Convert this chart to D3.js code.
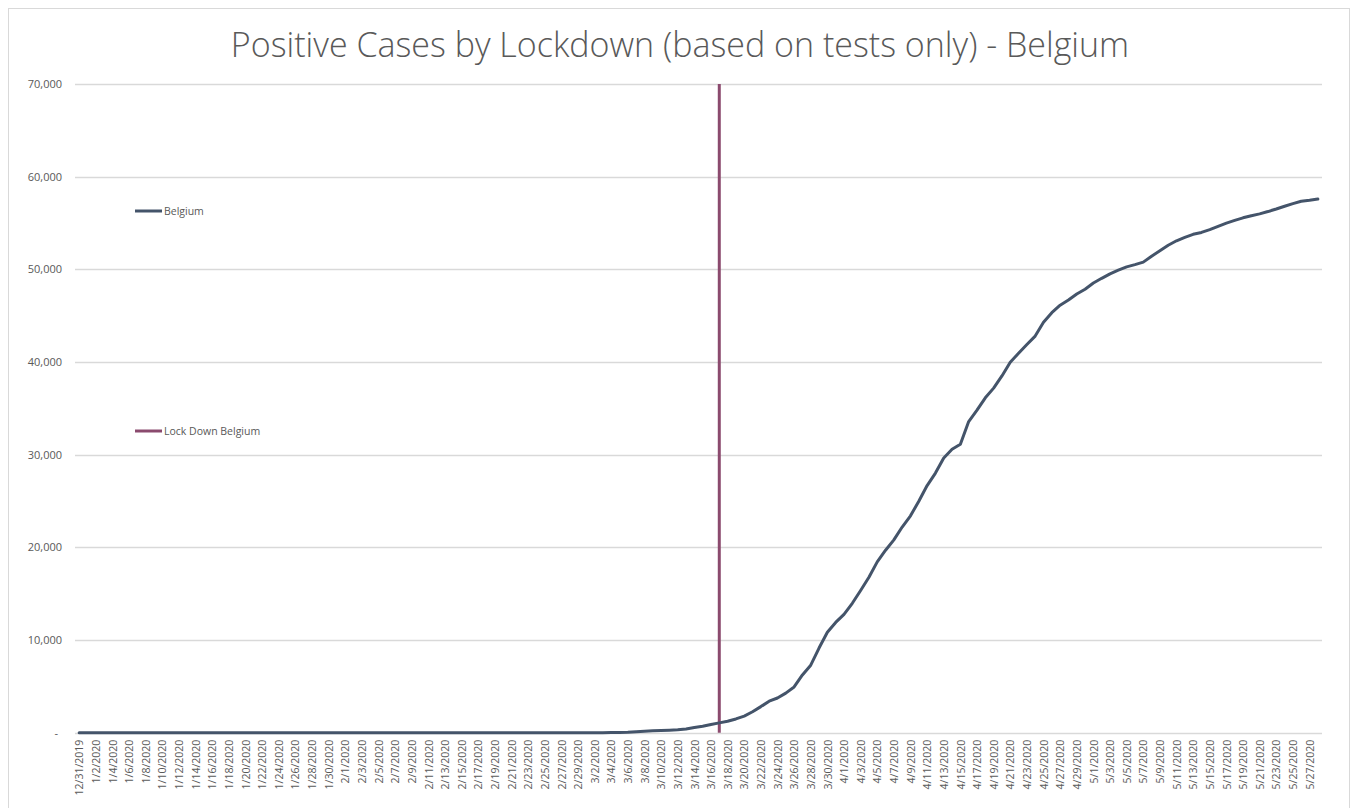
<!DOCTYPE html>
<html>
<head>
<meta charset="utf-8">
<script src="https://cdn.jsdelivr.net/npm/d3@7"></script>
<style>
  html, body { margin: 0; padding: 0; background: #fff; }
  svg { display: block; }
</style>
</head>
<body>
<svg id="chart" width="1351" height="808"></svg>
<script>
// ---------- DATA ----------
const startDate = "2019-12-31";
const endDate = "2020-05-28";
const belgiumCases = [
  // 12/31 - 2/3
  0,0,0,0,0,0,0,0,0,0,0,0,0,0,0,0,0,0,0,0,0,0,0,0,0,0,0,0,0,0,0,0,0,0,0,
  // 2/4 - 3/1
  1,1,1,1,1,1,1,1,1,1,1,1,1,1,1,1,1,1,1,1,1,1,1,1,1,1,1,
  // 3/2 - 3/31
  2,8,13,23,50,109,169,200,239,267,314,399,559,689,886,1058,1243,1486,1795,2257,
  2815,3401,3743,4269,4937,6235,7284,9134,10836,11899,
  // April
  12775,13964,15348,16770,18431,19691,20814,22194,23403,24983,26667,28018,29647,30589,31119,
  33573,34809,36138,37183,38496,39983,40956,41889,42797,44293,45325,46134,46687,47334,47859,
  // May 1 - 28
  48519,49032,49517,49906,50267,50509,50781,51420,52011,52596,53081,53449,53779,53981,54288,
  54644,54989,55280,55559,55791,55983,56235,56511,56810,57092,57342,57455,57592
];
const lockdownDate = "3/17/2020";
const lockdownValues = [0, 70000];
const yTicks = [0, 10000, 20000, 30000, 40000, 50000, 60000, 70000];
const seriesNames = ["Belgium", "Lock Down Belgium"];
const titleText = "Positive Cases by Lockdown (based on tests only) - Belgium";

// categories (M/D/YYYY) from the date span
const parse = d3.timeParse("%Y-%m-%d");
const fmt = d => (d.getMonth() + 1) + "/" + d.getDate() + "/" + d.getFullYear();
const categories = d3.timeDay.range(parse(startDate), d3.timeDay.offset(parse(endDate), 1)).map(fmt);
const tickLabels = categories.filter((c, i) => i % 2 === 0);

// ---------- CHART ----------
const svg = d3.select("#chart");
const W = 1351, H = 808;
const plot = { left: 75, right: 1322, top: 84, bottom: 732.7 };
const textColor = "#595959";
const gridColor = "#D9D9D9";
const belgiumColor = "#44546A";
const lockColor = "#8B4A6E";
const font = "'Open Sans', 'Noto Sans', sans-serif";

svg.append("rect").attr("x", 8.5).attr("y", 8.5).attr("width", W - 10).attr("height", H + 10)
  .attr("fill", "#fff").attr("stroke", "#D9D9D9").attr("stroke-width", 1);

const x = d3.scalePoint().domain(categories).range([plot.left, plot.right]).padding(0.5);
const y = d3.scaleLinear().domain([0, 70000]).range([plot.bottom, plot.top]);

// gridlines
svg.append("g").selectAll("line").data(yTicks).join("line")
  .attr("x1", plot.left).attr("x2", plot.right)
  .attr("y1", d => Math.round(y(d)) + 0.5).attr("y2", d => Math.round(y(d)) + 0.5)
  .attr("stroke", gridColor).attr("stroke-width", 1.3);

// y axis labels
const yAxis = d3.axisLeft(y).tickValues(yTicks).tickSize(0).tickPadding(0)
  .tickFormat(d => d === 0 ? "-" : d3.format(",")(d));
const gy = svg.append("g").attr("transform", `translate(${plot.left - 13},0)`).call(yAxis);
gy.select(".domain").remove();
gy.selectAll("text").attr("fill", textColor).style("font-family", font).style("font-size", "11px")
  .attr("dx", d => d === 0 ? -4 : 0);

// x axis labels
const xAxis = d3.axisBottom(x).tickValues(tickLabels).tickSize(0).tickPadding(0);
const gx = svg.append("g").attr("transform", `translate(0,${plot.bottom})`).call(xAxis);
gx.select(".domain").remove();
gx.selectAll("text")
  .attr("fill", textColor).style("font-family", font).style("font-size", "10.5px")
  .attr("transform", "rotate(-90)")
  .attr("text-anchor", "end")
  .attr("x", -7).attr("y", 0).attr("dy", "0.35em");

// lockdown line
svg.append("line")
  .attr("x1", x(lockdownDate)).attr("x2", x(lockdownDate))
  .attr("y1", y(lockdownValues[0])).attr("y2", y(lockdownValues[1]))
  .attr("stroke", lockColor).attr("stroke-width", 3);

// Belgium line
const line = d3.line().x((d, i) => x(categories[i])).y(d => y(d));
svg.append("path").datum(belgiumCases)
  .attr("d", line).attr("fill", "none")
  .attr("stroke", belgiumColor).attr("stroke-width", 3)
  .attr("stroke-linejoin", "round").attr("stroke-linecap", "round");

// legends
const legend = [
  { name: seriesNames[0], color: belgiumColor, y: 211 },
  { name: seriesNames[1], color: lockColor, y: 431 }
];
const lg = svg.append("g").selectAll("g").data(legend).join("g")
  .attr("transform", d => `translate(135,${d.y})`);
lg.append("line").attr("x1", 0).attr("x2", 27).attr("y1", 0).attr("y2", 0)
  .attr("stroke", d => d.color).attr("stroke-width", 3);
lg.append("text").attr("x", 29).attr("y", 0).attr("dy", "0.35em")
  .attr("fill", textColor).style("font-family", font).style("font-size", "10.5px")
  .text(d => d.name);

// title
svg.append("text").attr("x", 680).attr("y", 57).attr("text-anchor", "middle")
  .attr("fill", textColor).style("font-family", font).style("font-weight", 300)
  .style("font-size", "34px").text(titleText);
</script>
</body>
</html>
